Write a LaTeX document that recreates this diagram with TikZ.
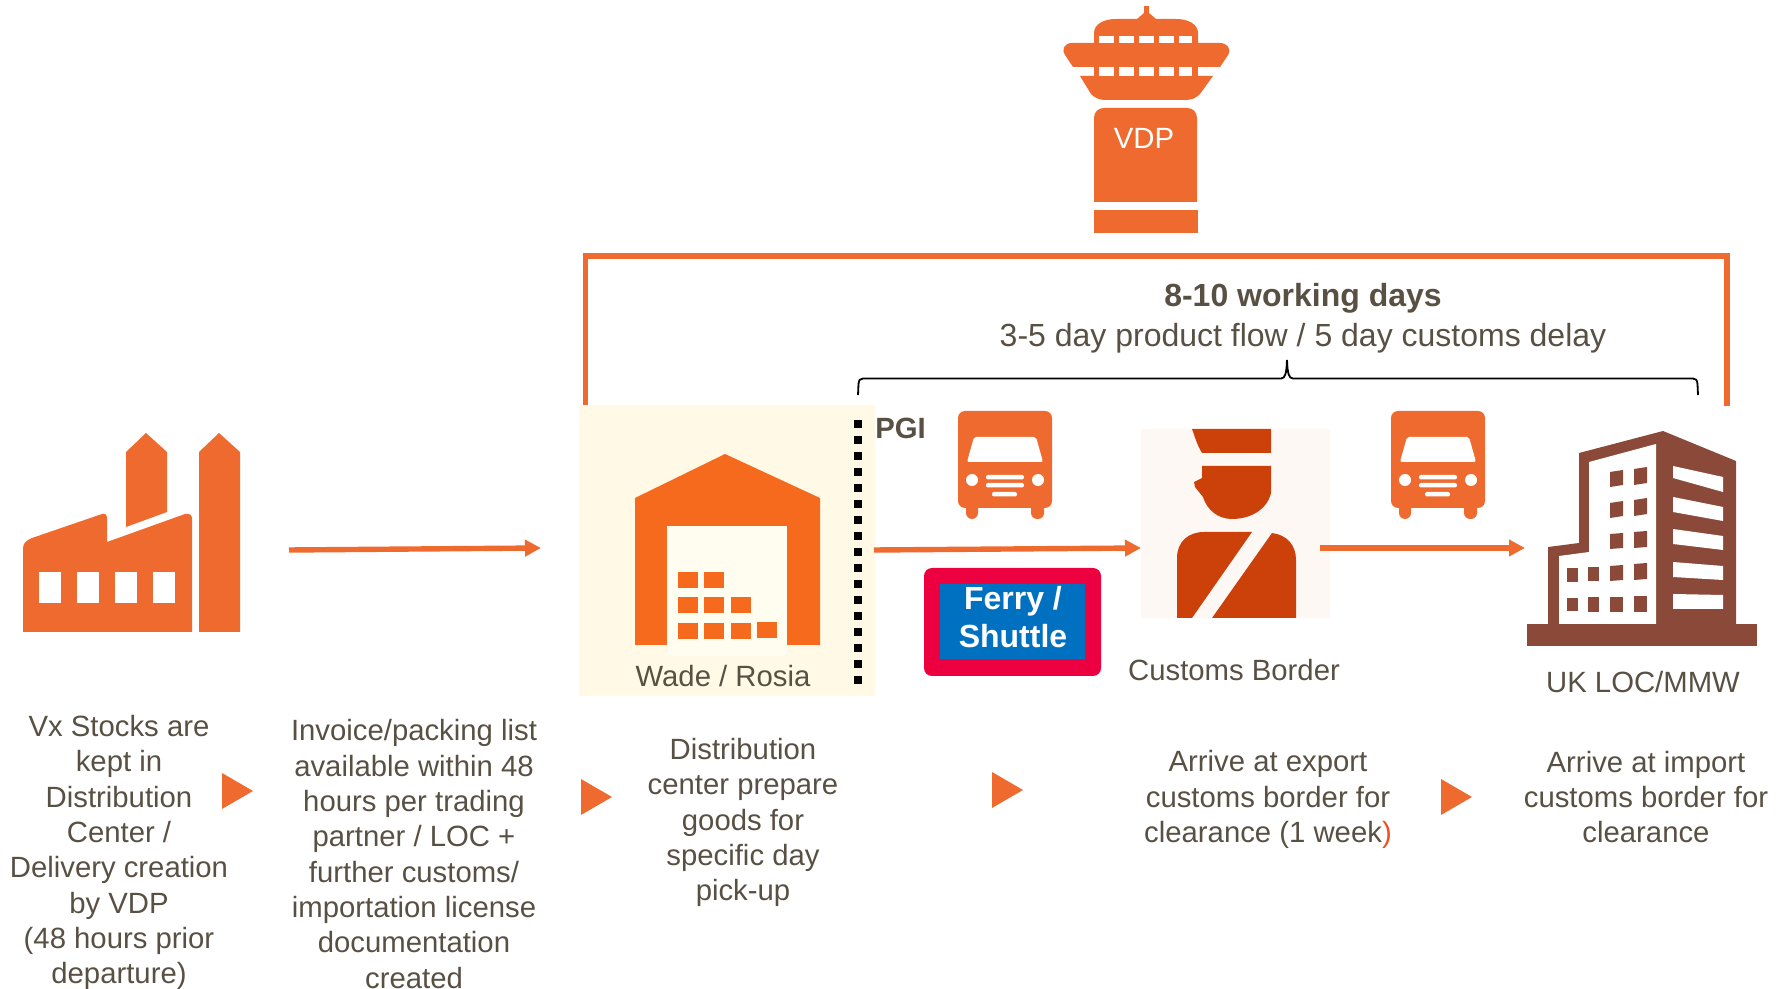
\documentclass[tikz,border=0pt]{standalone}
\usepackage{fontspec}
\setmainfont{Liberation Sans}
\usetikzlibrary{arrows.meta}
\definecolor{orng}{HTML}{EE6A2E}
\definecolor{wareorng}{HTML}{F56A1C}
\definecolor{txt}{HTML}{595044}
\definecolor{cream}{HTML}{FFF9E5}
\definecolor{doorc}{HTML}{FFFCF0}
\definecolor{custbg}{HTML}{FDF8F4}
\definecolor{custfg}{HTML}{CC4109}
\definecolor{bldg}{HTML}{8B4A39}
\definecolor{ferryred}{HTML}{EC0040}
\definecolor{ferryblue}{HTML}{0070C0}
\definecolor{parenc}{HTML}{F0501E}
\tikzset{
  x=0.5pt,y=-0.5pt,
  bodytext/.style={text=txt,align=center,inner sep=0pt,font=\fontsize{14.65}{17.65}\selectfont},
  labeltext/.style={text=txt,inner sep=0pt,font=\fontsize{14.65}{17.65}\selectfont},
  flow/.style={orng,line width=2.7pt,-{Triangle[length=8pt,width=8pt]}},
  playtri/.style={fill=orng,draw=none},
  truckicon/.pic={
    \fill[orng,rounded corners=3.5pt] (958,411) rectangle (1052,508);
    \fill[orng,rounded corners=3pt] (966,500) rectangle (978,519);
    \fill[orng,rounded corners=3pt] (1031,500) rectangle (1044,519);
    \fill[white,rounded corners=1pt] (967,462) -- (974,437) -- (1036,437) -- (1043,462) -- cycle;
    \fill[white] (972,480) circle (6);
    \fill[white] (1038,480) circle (6);
    \fill[white,rounded corners=1pt] (986,475) rectangle (1024,479.5);
    \fill[white,rounded corners=1pt] (986,483) rectangle (1024,487.5);
    \fill[white,rounded corners=1pt] (992,492) rectangle (1017,496.5);
  }
}
\begin{document}
\begin{tikzpicture}
\useasboundingbox (0,0) rectangle (1785,989);
% tower
\fill[orng] (1144,6) rectangle (1149,16);
\fill[orng] (1137,19) -- (1144,13) -- (1149,13) -- (1156,19) -- cycle;
\fill[orng] (1094,43) -- (1094,33) .. controls (1094,24) and (1104,19) .. (1116,19) -- (1176,19) .. controls (1188,19) and (1198,24) .. (1198,33) -- (1198,43) -- cycle;
\fill[orng] (1073,67) -- (1065,55) .. controls (1061,49) and (1065,43) .. (1072,43) -- (1220,43) .. controls (1227,43) and (1232,49) .. (1228,55) -- (1220,67) -- cycle;
\fill[orng] (1094,67) rectangle (1198,76);
\fill[orng] (1080,76) -- (1213,76) -- (1200,94) .. controls (1196,98) and (1192,100) .. (1185,100) -- (1106,100) .. controls (1099,100) and (1095,98) .. (1091,94) -- cycle;
\foreach \a/\b in {1099/1114,1119/1134,1139/1154,1159/1174,1179/1192}{
  \fill[white] (\a,36) rectangle (\b,43);
  \fill[white] (\a,67) rectangle (\b,76);
}
\fill[orng] (1094,202) -- (1094,118) .. controls (1094,112) and (1098,108) .. (1104,108) -- (1187,108) .. controls (1193,108) and (1197,112) .. (1197,118) -- (1197,202) -- cycle;
\fill[orng] (1094,210) rectangle (1198,233);
\node[text=white,inner sep=0pt,font=\fontsize{14.65}{17}\selectfont] (vdp) at (1144,138) {VDP};
% factory
\fill[orng] (23,632) -- (23,548) .. controls (23,543) and (27,540) .. (32,538) -- (102,514) .. controls (105,513) and (107,515) .. (107,518) -- (107,542) -- (185,514) .. controls (189,513) and (192,515) .. (192,518) -- (192,632) -- cycle;
\foreach \a/\b in {39/61,77/99,115/137,153/175}{\fill[white] (\a,572) rectangle (\b,603);}
\fill[orng] (126,527) -- (126,452) -- (146,433) -- (167,452) -- (167,512) -- cycle;
\fill[orng] (199,632) -- (199,452) -- (219,433) -- (240,452) -- (240,632) -- cycle;
% bracket
\coordinate (bl) at (585.5,406);
\coordinate (br) at (1727,406);
\coordinate (bt) at (1156,256);
\draw[orng,line width=2.8pt,line join=miter] (bl) |- (bt) -| (br);
\node[text=txt,inner sep=0pt,font=\fontsize{16}{19}\selectfont\bfseries] (days) at (1303,298) {8-10 working days};
\node[text=txt,inner sep=0pt,font=\fontsize{16}{19}\selectfont] (delay) at (1303,338) {3-5 day product flow / 5 day customs delay};
\draw[black,line width=0.9pt] (858,395) -- (858.5,384) .. controls (859,380) and (860,378.5) .. (863,378.5) -- (1281,378.5) .. controls (1285,378.5) and (1286.5,374) .. (1287,360) .. controls (1287.5,374) and (1289,378.5) .. (1293,378.5) -- (1693,378.5) .. controls (1696,378.5) and (1697,380) .. (1697.5,384) -- (1698,395);
% warehouse
\fill[cream] (579,405) rectangle (875,696);
\fill[wareorng] (635,645) -- (635,498) -- (725,454) -- (820,498) -- (820,645) -- (787,645) -- (787,526) -- (667,526) -- (667,645) -- cycle;
\fill[doorc] (667,526) rectangle (787,656);
\foreach \x/\y in {678/572,704/572,678/597,704/597,731/597,678/623,704/623,731/623,757/622}{
  \fill[wareorng] (\x,\y) rectangle ++(20,16.5);
}
\node[labeltext] (wade) at (723,676) {Wade / Rosia};
\draw[black,line width=4pt,dash pattern=on 4pt off 4pt] (858,420) -- (858,684);
\node[text=txt,inner sep=0pt,anchor=west,font=\fontsize{14.65}{17}\selectfont\bfseries] (pgi) at (875,428) {PGI};
% trucks
\pic at (0,0) {truckicon};
\pic at (433,0) {truckicon};
% ferry
\fill[ferryred,rounded corners=4pt] (924,568) rectangle (1101,676);
\fill[ferryblue] (940,584) rectangle (1085,659);
\node[text=white,align=center,inner sep=0pt,font=\fontsize{16}{18.85}\selectfont\bfseries] (ferry) at (1013,617) {Ferry /\\Shuttle};
% customs
\fill[custbg] (1141,429) rectangle (1330,618);
\fill[custfg] (1192,429) -- (1271,429) -- (1271,453) -- (1202,453) .. controls (1197,445) and (1195,437) .. (1192,429) -- cycle;
\fill[custfg] (1202,466) -- (1271,466) -- (1271,493) .. controls (1267,510) and (1250,519) .. (1232,519) .. controls (1218,519) and (1207,510) .. (1203,497) -- (1195,487) -- (1194,482) -- (1202,478) -- cycle;
\fill[custfg] (1177,618) -- (1177,558) .. controls (1177,542) and (1188,532) .. (1204,532) -- (1252,532) -- (1192,618) -- cycle;
\fill[custfg] (1272,533) .. controls (1287,535) and (1296,545) .. (1296,560) -- (1296,618) -- (1212,618) -- cycle;
\node[labeltext] (cust) at (1234,670.5) {Customs Border};
% building
\fill[bldg] (1527,624) rectangle (1757,646);
\fill[bldg] (1548,630) -- (1548,547) -- (1579,543) -- (1579,453) -- (1663,431) -- (1736,461) -- (1736,630) -- cycle;
\fill[white] (1559,624) -- (1559,556) -- (1589,552) -- (1589,462) -- (1656,444) -- (1656,624) -- cycle;
\foreach \a/\b/\c/\d in {1567/1578/598/611,1588/1599/597/612,1567/1578/568/582,1588/1599/567/581}{
  \fill[bldg] (\a,\c) rectangle (\b,\d);
}
\foreach \y/\d in {472/2,503/2,534/1,566/1,597/0}{
  \fill[bldg] (1610,\y) -- (1623,\y-\d) -- (1623,\y-\d+15) -- (1610,\y+15) -- cycle;
}
\foreach \y/\d in {469/2,500/2,532/1,564/1,596/0}{
  \fill[bldg] (1634,\y) -- (1647,\y-\d) -- (1647,\y-\d+16) -- (1634,\y+16) -- cycle;
}
\fill[white] (1673,466) -- (1723,477) -- (1723,492) -- (1673,478) -- cycle;
\fill[white] (1673,497) -- (1723,507) -- (1723,521) -- (1673,512) -- cycle;
\fill[white] (1673,529) -- (1723,536) -- (1723,550) -- (1673,544) -- cycle;
\fill[white] (1673,562) -- (1723,566) -- (1723,580) -- (1673,577) -- cycle;
\fill[white] (1673,594) -- (1723,595) -- (1723,609) -- (1673,609) -- cycle;
\node[labeltext] (uk) at (1643,682) {UK LOC/MMW};
% flows
\coordinate (a1s) at (289,550);
\coordinate (a1e) at (541,548);
\coordinate (a2s) at (874,550);
\coordinate (a2e) at (1141,548);
\coordinate (a3s) at (1320,548);
\coordinate (a3e) at (1525,548);
\draw[flow] (a1s) -- (a1e);
\draw[flow] (a2s) -- (a2e);
\draw[flow] (a3s) -- (a3e);
% triangles
\fill[playtri] (222,773) -- (253,791) -- (222,809) -- cycle;
\fill[playtri] (581,779) -- (612,797) -- (581,815) -- cycle;
\fill[playtri] (992,772) -- (1023,790) -- (992,808) -- cycle;
\fill[playtri] (1441,779) -- (1472,797) -- (1441,815) -- cycle;
% texts
\node[bodytext] (t1) at (119,852.5) {Vx Stocks are\\kept in\\Distribution\\Center /\\Delivery creation\\by VDP\\(48 hours prior\\departure)};
\node[bodytext] (t2) at (414,854) {Invoice/packing list\\available within 48\\hours per trading\\partner / LOC +\\further customs/\\importation license\\documentation\\created};
\node[bodytext] (t3) at (743,822.5) {Distribution\\center prepare\\goods for\\specific day\\pick-up};
\node[bodytext] (t4) at (1268,799.5) {Arrive at export\\customs border for\\clearance (1 week\textcolor{parenc}{)}};
\node[bodytext] (t5) at (1646,797) {Arrive at import\\customs border for\\clearance};
\end{tikzpicture}
\end{document}
